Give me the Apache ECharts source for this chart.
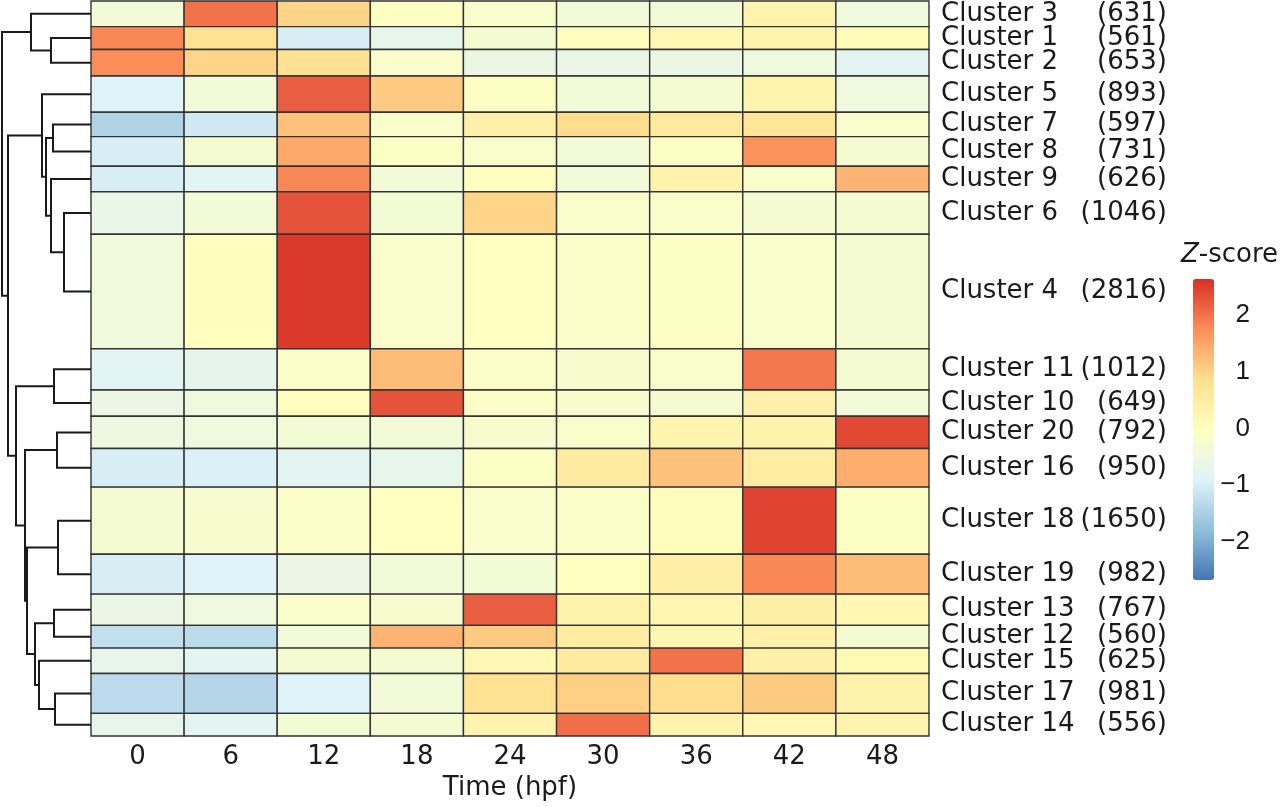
<!DOCTYPE html>
<html>
<head>
<meta charset="utf-8">
<script src="https://cdn.jsdelivr.net/npm/echarts@6/dist/echarts.min.js"></script>
<style>
  html, body { margin: 0; background: #fff; }
  #chart { width: 1280px; height: 807px; }
</style>
</head>
<body>
<div id="chart"></div>
<script>
const timeLabels = ['0', '6', '12', '18', '24', '30', '36', '42', '48'];

const clusterNames = ['Cluster 3', 'Cluster 1', 'Cluster 2', 'Cluster 5', 'Cluster 7', 'Cluster 8',
  'Cluster 9', 'Cluster 6', 'Cluster 4', 'Cluster 11', 'Cluster 10', 'Cluster 20', 'Cluster 16',
  'Cluster 18', 'Cluster 19', 'Cluster 13', 'Cluster 12', 'Cluster 15', 'Cluster 17', 'Cluster 14'];

const geneCounts = [631, 561, 653, 893, 597, 731, 626, 1046, 2816, 1012,
  649, 792, 950, 1650, 982, 767, 560, 625, 981, 556];

// mean z-score per cluster (rows) and time point (columns)
const zScores = [
  [-0.4, 2.0, 1.0, -0.1, -0.2, -0.4, -0.4, 0.3, -0.5],
  [1.8, 0.8, -1.0, -0.7, -0.3, 0.0, 0.2, 0.3, 0.1],
  [1.75, 1.0, 0.8, -0.2, -0.6, -0.6, -0.6, -0.5, -0.8],
  [-0.9, -0.4, 2.2, 1.1, -0.1, -0.4, -0.3, 0.3, -0.5],
  [-1.45, -1.1, 1.2, -0.2, 0.4, 0.9, 0.6, 0.7, -0.2],
  [-1.0, -0.3, 1.45, -0.1, -0.2, -0.4, -0.1, 1.7, -0.3],
  [-1.0, -0.85, 1.8, -0.4, 0.0, -0.4, 0.35, -0.2, 1.35],
  [-0.65, -0.4, 2.3, -0.35, 1.0, -0.2, -0.2, -0.3, -0.3],
  [-0.45, 0.0, 2.55, -0.2, -0.05, -0.15, -0.1, -0.2, -0.3],
  [-0.85, -0.75, -0.15, 1.25, -0.15, -0.25, -0.2, 1.95, -0.3],
  [-0.6, -0.5, 0.05, 2.3, -0.15, -0.25, -0.3, 0.4, -0.4],
  [-0.55, -0.5, -0.35, -0.4, -0.25, -0.2, 0.3, 0.35, 2.4],
  [-1.0, -0.95, -0.8, -0.7, -0.1, 0.55, 1.2, 0.5, 1.4],
  [-0.3, -0.25, -0.15, -0.05, -0.2, -0.15, 0.05, 2.45, -0.1],
  [-1.0, -0.9, -0.6, -0.4, -0.35, -0.05, 0.45, 1.8, 1.25],
  [-0.6, -0.5, -0.2, -0.25, 2.2, 0.35, 0.25, 0.45, 0.2],
  [-1.25, -1.3, -0.4, 1.35, 1.1, 0.5, 0.25, 0.4, -0.3],
  [-0.7, -0.8, -0.3, -0.3, 0.2, 0.55, 2.0, 0.4, 0.15],
  [-1.3, -1.4, -0.9, -0.4, 0.8, 1.05, 0.9, 1.1, 0.35],
  [-0.7, -0.8, -0.35, -0.3, 0.3, 2.05, 0.3, 0.2, 0.3]
];

// dendrogram merges, hclust style: negative = leaf (row index + 1), positive = earlier merge
const dendroMerges = [
  [-2, -3, 40], [-1, 1, 60], [-5, -6, 38], [-8, -9, 27], [-7, 4, 40],
  [3, 5, 45], [-4, 6, 49], [-10, -11, 37], [-12, -13, 34], [-14, -15, 33],
  [-16, -17, 37], [-19, -20, 36], [-18, 12, 52], [11, 13, 56], [10, 14, 64],
  [9, 15, 66], [8, 16, 75], [7, 17, 83], [2, 18, 89]
];

const legendTicks = [2, 1, 0, -1, -2];
const zMin = -2.68, zMax = 2.64;
const palette = ['#4575B4', '#91BFDB', '#E0F3F8', '#FFFFBF', '#FEE090', '#FC8D59', '#D73027'];

const textColor = '#1a1a1a';
const font = 'DejaVu Sans';

// row extents in gene units
const rowStart = [];
let acc = 0;
geneCounts.forEach(c => { rowStart.push(acc); acc += c; });
const totalGenes = acc;

const cells = [];
zScores.forEach((row, r) => {
  row.forEach((v, c) => {
    cells.push([c, rowStart[r], rowStart[r] + geneCounts[r], v]);
  });
});

const labelRows = clusterNames.map((n, i) => [0, rowStart[i], rowStart[i] + geneCounts[i], i]);

// dendrogram segments
const nodeH = [], nodePos = [];
function childInfo(ref) {
  if (ref < 0) {
    const i = -ref - 1;
    return [0, rowStart[i] + geneCounts[i] / 2];
  }
  return [nodeH[ref - 1], nodePos[ref - 1]];
}
const dendroData = dendroMerges.map(([a, b, h]) => {
  const [ha, ya] = childInfo(a);
  const [hb, yb] = childInfo(b);
  nodeH.push(h);
  nodePos.push((ya + yb) / 2);
  return [ha, ya, h, yb, hb];
});

const chart = echarts.init(document.getElementById('chart'));

const option = {
  animation: false,
  backgroundColor: '#fff',
  title: {
    text: '{z|Z}-score',
    left: 1181,
    top: 242,
    padding: 0,
    textStyle: {
      fontFamily: font, fontSize: 26, fontWeight: 'normal', color: textColor,
      rich: { z: { fontFamily: font, fontSize: 26, fontStyle: 'italic', color: textColor } }
    }
  },
  grid: [
    { left: 91, top: 1, width: 838, height: 735 },
    { left: 0, top: 1, width: 91, height: 735 },
    { left: 1193, top: 279, width: 21, height: 301 }
  ],
  xAxis: [
    {
      gridIndex: 0, type: 'category', data: timeLabels,
      axisLine: { show: false }, axisTick: { show: false },
      axisLabel: { fontSize: 26, fontFamily: font, color: textColor, margin: 8 },
      name: 'Time (hpf)', nameLocation: 'middle', nameGap: 33,
      nameTextStyle: { fontSize: 26, fontFamily: font, color: textColor }
    },
    { gridIndex: 1, type: 'value', min: 0, max: 91, inverse: true, show: false },
    { gridIndex: 2, type: 'value', min: 0, max: 1, show: false }
  ],
  yAxis: [
    { gridIndex: 0, type: 'value', min: 0, max: totalGenes, inverse: true, show: false },
    { gridIndex: 1, type: 'value', min: 0, max: totalGenes, inverse: true, show: false },
    { gridIndex: 2, type: 'value', min: zMin, max: zMax, show: false }
  ],
  visualMap: {
    type: 'continuous',
    seriesIndex: 0,
    dimension: 3,
    min: zMin,
    max: zMax,
    calculable: false,
    orient: 'vertical',
    left: 1193,
    top: 279,
    itemWidth: 21,
    itemHeight: 301,
    padding: 0,
    text: null,
    inRange: { color: palette }
  },
  series: [
    {
      type: 'custom',
      xAxisIndex: 0, yAxisIndex: 0,
      encode: { x: 0, y: [1, 2] },
      data: cells,
      renderItem: (params, api) => {
        const p0 = api.coord([api.value(0), api.value(1)]);
        const p1 = api.coord([api.value(0), api.value(2)]);
        const w = api.size([1, 0])[0];
        return {
          type: 'rect',
          shape: { x: p0[0] - w / 2, y: p0[1], width: w, height: p1[1] - p0[1] },
          style: { fill: api.visual('color'), stroke: '#333', lineWidth: 1.4 }
        };
      }
    },
    {
      type: 'custom',
      xAxisIndex: 1, yAxisIndex: 1,
      data: dendroData,
      renderItem: (params, api) => {
        const ha = api.value(0), ya = api.value(1), h = api.value(2), yb = api.value(3), hb = api.value(4);
        return {
          type: 'polyline',
          shape: { points: [api.coord([ha, ya]), api.coord([h, ya]), api.coord([h, yb]), api.coord([hb, yb])] },
          style: { stroke: '#1a1a1a', lineWidth: 2, fill: null }
        };
      }
    },
    {
      type: 'custom',
      xAxisIndex: 0, yAxisIndex: 0,
      data: labelRows,
      renderItem: (params, api) => {
        const i = api.value(3);
        const yc = api.coord([0, (api.value(1) + api.value(2)) / 2])[1];
        const right = params.coordSys.x + params.coordSys.width;
        return {
          type: 'group',
          children: [
            {
              type: 'text', x: right + 12, y: yc,
              style: { text: clusterNames[i], fontFamily: font, fontSize: 26, fill: textColor, align: 'left', verticalAlign: 'middle' }
            },
            {
              type: 'text', x: right + 238, y: yc,
              style: { text: '(' + geneCounts[i] + ')', fontFamily: font, fontSize: 26, fill: textColor, align: 'right', verticalAlign: 'middle' }
            }
          ]
        };
      }
    },
    {
      type: 'custom',
      xAxisIndex: 2, yAxisIndex: 2,
      data: legendTicks.map(v => [0, v]),
      renderItem: (params, api) => {
        const v = api.value(1);
        const p = api.coord([0, v]);
        return {
          type: 'text', x: params.coordSys.x + 57, y: p[1],
          style: {
            text: v < 0 ? '\u2212' + Math.abs(v) : String(v),
            fontFamily: 'Liberation Sans', fontSize: 26, fill: textColor,
            align: 'right', verticalAlign: 'middle'
          }
        };
      }
    }
  ]
};

chart.setOption(option);
</script>
</body>
</html>
